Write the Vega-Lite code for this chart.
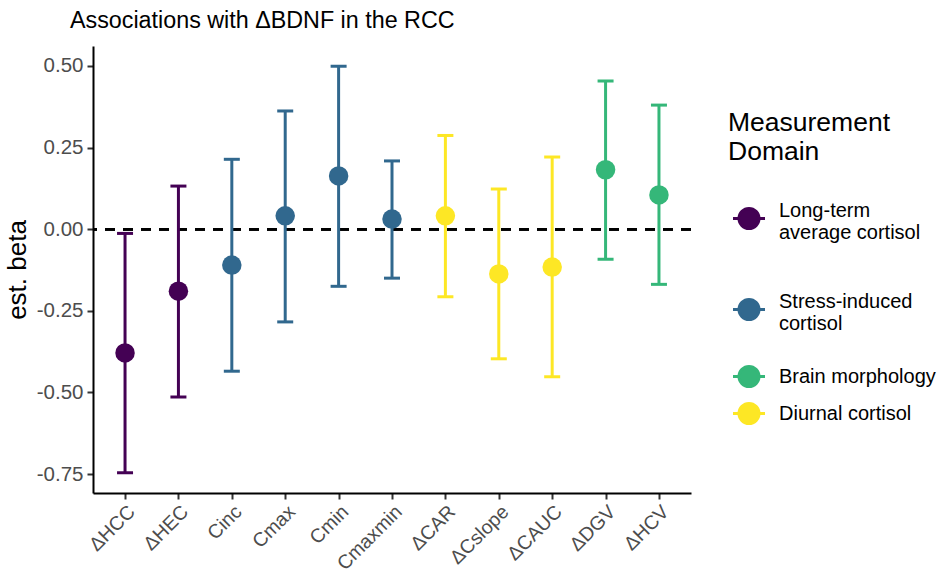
{
  "$schema": "https://vega.github.io/schema/vega-lite/v6.json",
  "width": 598,
  "height": 447,
  "autosize": {"type": "none"},
  "padding": {"left": 93, "top": 46, "right": 258, "bottom": 88},
  "background": "white",
  "title": {
    "text": "Associations with ΔBDNF in the RCC",
    "anchor": "start",
    "frame": "group",
    "fontSize": 23.3,
    "font": "Liberation Sans",
    "fontWeight": "normal",
    "color": "black",
    "baseline": "alphabetic",
    "dx": -23,
    "dy": 24,
    "offset": 19
  },
  "config": {
    "font": "Liberation Sans",
    "view": {"stroke": null},
    "axis": {
      "grid": false,
      "domainColor": "black",
      "domainWidth": 2,
      "tickColor": "#333333",
      "tickWidth": 2,
      "tickSize": 6,
      "labelColor": "#4D4D4D",
      "titleFontSize": 26,
      "titleFontWeight": "normal",
      "titleColor": "black"
    },
    "axisX": {
      "labelAngle": -45,
      "labelAlign": "right",
      "labelBaseline": "top",
      "labelFontSize": 19.5,
      "labelPadding": 3
    },
    "axisY": {
      "labelFontSize": 20.5,
      "labelPadding": 4,
      "titlePadding": 6,
      "titleFontSize": 26
    }
  },
  "data": {
    "values": [
      {"term": "ΔHCC", "domain": "Long-term average cortisol", "est": -0.379, "lower": -0.746, "upper": -0.013},
      {"term": "ΔHEC", "domain": "Long-term average cortisol", "est": -0.190, "lower": -0.514, "upper": 0.132},
      {"term": "Cinc", "domain": "Stress-induced cortisol", "est": -0.110, "lower": -0.435, "upper": 0.214},
      {"term": "Cmax", "domain": "Stress-induced cortisol", "est": 0.041, "lower": -0.284, "upper": 0.362},
      {"term": "Cmin", "domain": "Stress-induced cortisol", "est": 0.163, "lower": -0.175, "upper": 0.499},
      {"term": "Cmaxmin", "domain": "Stress-induced cortisol", "est": 0.031, "lower": -0.150, "upper": 0.209},
      {"term": "ΔCAR", "domain": "Diurnal cortisol", "est": 0.041, "lower": -0.207, "upper": 0.287},
      {"term": "ΔCslope", "domain": "Diurnal cortisol", "est": -0.137, "lower": -0.397, "upper": 0.123},
      {"term": "ΔCAUC", "domain": "Diurnal cortisol", "est": -0.116, "lower": -0.452, "upper": 0.221},
      {"term": "ΔDGV", "domain": "Brain morphology", "est": 0.182, "lower": -0.092, "upper": 0.454},
      {"term": "ΔHCV", "domain": "Brain morphology", "est": 0.105, "lower": -0.169, "upper": 0.380}
    ]
  },
  "encoding": {
    "x": {
      "field": "term",
      "type": "nominal",
      "sort": null,
      "scale": {"type": "point", "padding": 0.6},
      "axis": {"title": null}
    },
    "y": {
      "type": "quantitative",
      "scale": {"domain": [-0.808, 0.561], "nice": false, "zero": false},
      "axis": {
        "title": "est. beta",
        "titleFontSize": 26,
        "values": [-0.75, -0.5, -0.25, 0, 0.25, 0.5],
        "format": ".2f",
        "labelExpr": "replace(datum.label, '\u2212', '-')"
      }
    }
  },
  "layer": [
    {
      "mark": {"type": "rule", "strokeDash": [10, 8], "strokeWidth": 2, "color": "black"},
      "encoding": {"y": {"datum": 0, "axis": {"title": "est. beta", "titleFontSize": 26, "values": [-0.75, -0.5, -0.25, 0, 0.25, 0.5], "format": ".2f", "labelExpr": "replace(datum.label, '\u2212', '-')"}}, "x": null}
    },
    {
      "mark": {"type": "rule", "strokeWidth": 3},
      "encoding": {
        "y": {"field": "lower"},
        "y2": {"field": "upper"},
        "color": {"field": "domain", "type": "nominal",
          "scale": {"domain": ["Long-term average cortisol", "Stress-induced cortisol", "Brain morphology", "Diurnal cortisol"], "range": ["#440154", "#31688E", "#35B779", "#FDE725"]}}
      }
    },
    {
      "mark": {"type": "tick", "thickness": 3, "size": 16, "opacity": 1},
      "encoding": {
        "y": {"field": "lower"},
        "color": {"field": "domain", "type": "nominal"}
      }
    },
    {
      "mark": {"type": "tick", "thickness": 3, "size": 16, "opacity": 1},
      "encoding": {
        "y": {"field": "upper"},
        "color": {"field": "domain", "type": "nominal"}
      }
    },
    {
      "mark": {"type": "point", "filled": true, "opacity": 1, "size": 380, "shape": "circle"},
      "encoding": {
        "y": {"field": "est"},
        "color": {
          "field": "domain",
          "type": "nominal",
          "legend": {
            "orient": "none",
            "legendX": 635,
            "legendY": 64,
            "title": ["Measurement", "Domain"],
            "titleFontSize": 26.5,
            "titleFontWeight": "normal",
            "titleColor": "black",
            "titleLineHeight": 29,
            "titlePadding": 40,
            "labelFontSize": 20,
            "labelLineHeight": 20,
            "labelColor": "black",
            "labelOffset": 17,
            "labelLimit": 300,
            "labelExpr": "datum.label == 'Long-term average cortisol' ? ['', 'Long-term', 'average cortisol', ''] : datum.label == 'Stress-induced cortisol' ? ['', 'Stress-induced', 'cortisol', ''] : datum.label",
            "rowPadding": 5,
            "symbolOffset": 8,
            "symbolType": "M -1.4 0 L 1.4 0 M 0.875 0 A 0.875 0.875 0 1 1 -0.875 0 A 0.875 0.875 0 1 1 0.875 0 Z",
            "symbolSize": 522,
            "symbolStrokeWidth": 3,
            "symbolOpacity": 1,
            "encode": {
              "symbols": {
                "update": {
                  "fill": {"scale": "color", "field": "value"},
                  "stroke": {"scale": "color", "field": "value"},
                  "opacity": {"value": 1}
                }
              },
              "labels": {
                "update": {
                  "dy": {"signal": "datum.value == 'Long-term average cortisol' || datum.value == 'Stress-induced cortisol' ? -30 : 0"}
                }
              }
            }
          }
        }
      }
    }
  ]
}
